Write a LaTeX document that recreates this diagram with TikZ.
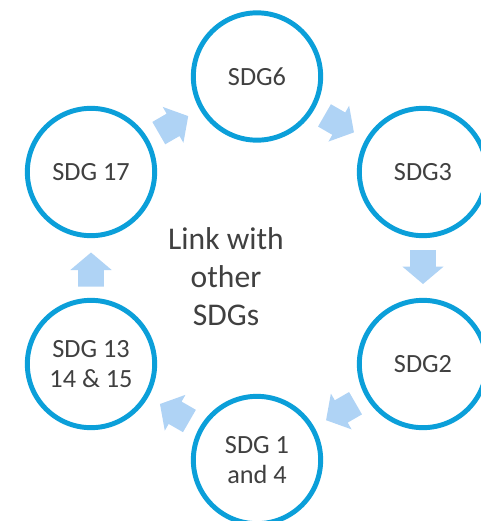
\documentclass[tikz,border=0pt]{standalone}
\usepackage{fontspec}
\setmainfont{Carlito}
\definecolor{ringc}{HTML}{0B9FD9}
\definecolor{arrc}{HTML}{AFD3F5}
\definecolor{txtc}{HTML}{404040}
\tikzset{
 px/.style={x=0.75pt,y=-0.75pt},
 ring/.style={circle,draw=ringc,line width=3.7pt,minimum size=95.5pt,inner sep=0pt,align=center,text=txtc,font=\fontsize{19.7}{22}\selectfont},
}
\newcommand{\fatarrow}[3]{\fill[arrc,shift={(#1,#2)},rotate=#3] (-17,-12.9)--(-0.5,-12.9)--(-0.5,-20.7)--(17,0)--(-0.5,20.7)--(-0.5,12.9)--(-17,12.9)--cycle;}
\begin{document}
\begin{tikzpicture}[px]
\useasboundingbox (0,0) rectangle (481,521);
\node[ring] (a) at (257,76.5) {SDG6};
\node[ring] (b) at (423,172) {SDG3};
\node[ring] (c) at (423,364) {SDG2};
\node[ring] (d) at (257,460) {SDG 1\\and 4};
\node[ring] (e) at (91,364) {SDG 13\\14 \& 15};
\node[ring] (f) at (91,172) {SDG 17};
\node[text=txtc,align=center,font=\fontsize{23.7}{28.5}\selectfont] (t) at (226,277) {Link with\\other\\SDGs};
\fatarrow{339.2}{123.9}{-30}
\fatarrow{423}{267}{-90}
\fatarrow{340.8}{411.7}{-150}
\fatarrow{174.7}{412.5}{-210}
\fatarrow{91}{269.5}{90}
\fatarrow{173.5}{124.6}{30}
\end{tikzpicture}
\end{document}
